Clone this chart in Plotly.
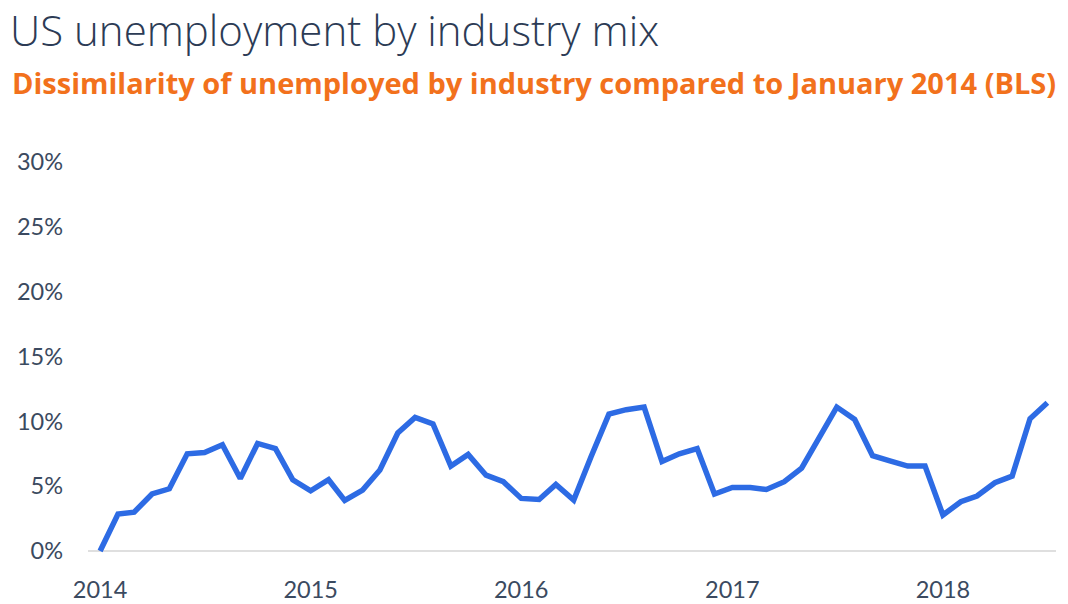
import pandas as pd
import plotly.graph_objects as go

months = pd.date_range("2014-01-01", "2018-07-01", freq="MS")
dissimilarity_pct = [
    0.0, 2.85, 3.0, 4.4, 4.8, 7.5, 7.6, 8.2, 5.6, 8.3, 7.9, 5.5,
    4.65, 5.5, 3.9, 4.7, 6.25, 9.1, 10.3, 9.8, 6.55, 7.45, 5.85, 5.35,
    4.06, 3.98, 5.14, 3.93, 7.27, 10.56, 10.9, 11.1, 6.9, 7.5, 7.9, 4.4,
    4.9, 4.9, 4.75, 5.35, 6.4, 8.8, 11.1, 10.15, 7.35, 6.96, 6.55, 6.55,
    2.78, 3.8, 4.24, 5.27, 5.78, 10.2, 11.43,
]
y_ticks = [0, 5, 10, 15, 20, 25, 30]
y_tick_labels = [f"{v}%" for v in y_ticks]
x_ticks = ["2014-01-01", "2015-01-01", "2016-01-01", "2017-01-01", "2018-01-01"]
x_tick_labels = ["2014", "2015", "2016", "2017", "2018"]

title = "US unemployment by industry mix"
subtitle = "Dissimilarity of unemployed by industry compared to January 2014 (BLS)"

fig = go.Figure()
fig.add_trace(go.Scatter(
    x=months, y=dissimilarity_pct, mode="lines",
    line=dict(color="#2d6be4", width=5.5, shape="linear"),
    hoverinfo="x+y",
))

fig.add_shape(type="line", xref="paper", yref="y", x0=0, x1=1, y0=0, y1=0,
              line=dict(color="#d4d4d4", width=1.5), layer="below")

fig.update_layout(
    width=1068, height=604,
    margin=dict(l=88, r=12, t=162, b=51, autoexpand=False),
    paper_bgcolor="white", plot_bgcolor="white",
    showlegend=False,
    font=dict(family="Lato", color="#3b4a60"),
    title=dict(
        text=title, x=0.0094, xanchor="left", y=0.949, yanchor="middle",
        xref="container", yref="container",
        font=dict(family="Open Sans", size=42, color="#2c3b55", weight=300),
    ),
    annotations=[dict(
        text=subtitle, xref="paper", yref="paper", x=-0.0806, xanchor="left",
        y=1.203, yanchor="middle", showarrow=False,
        font=dict(family="Open Sans", size=29, color="#f2711c", weight="bold"),
    )],
    xaxis=dict(
        range=["2013-12-11", "2018-07-16"],
        tickvals=x_ticks, ticktext=x_tick_labels,
        showgrid=False, zeroline=False, showline=False, ticks="",
        tickfont=dict(size=23.5, color="#3b4a60"),
        ticklabelstandoff=20, automargin=False,
    ),
    yaxis=dict(
        range=[-0.15, 30],
        tickvals=y_ticks, ticktext=y_tick_labels,
        showgrid=False, zeroline=False, showline=False, ticks="",
        tickfont=dict(size=23.5, color="#3b4a60"),
        ticklabelstandoff=24, automargin=False,
    ),
)

fig.write_html("out.html")
